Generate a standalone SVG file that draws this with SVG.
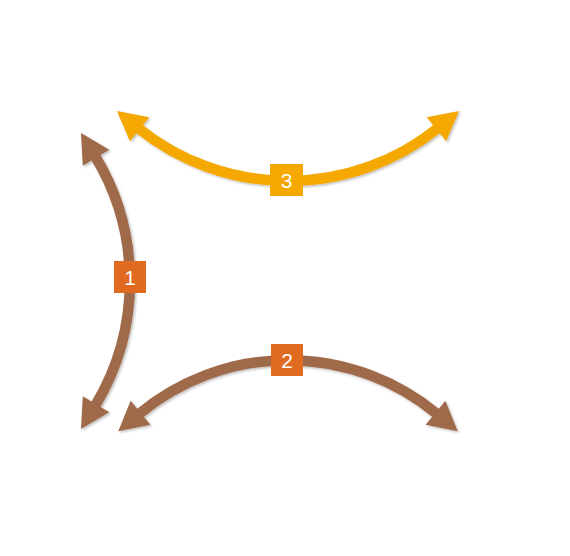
<svg xmlns="http://www.w3.org/2000/svg" width="570" height="556" viewBox="0 0 570 556">
<style>
.brown{fill:none;stroke:#9E6A4A;stroke-width:10.5}
.gold{fill:none;stroke:#F4A800;stroke-width:10.5}
.lbl{font-family:"Liberation Sans",Arial,sans-serif;font-size:21px;fill:#FFFFFF;text-anchor:middle;dominant-baseline:central}
</style>
<defs>
<filter id="sh" x="-20%" y="-20%" width="140%" height="140%">
<feDropShadow dx="1.5" dy="1.5" stdDeviation="1.2" flood-color="#000" flood-opacity="0.25"/>
</filter>
<marker id="hb" markerUnits="userSpaceOnUse" markerWidth="32" markerHeight="34" viewBox="0 -17 30 34" refX="2" refY="0" orient="auto-start-reverse">
<path d="M0,-15.5 L29,0 L0,15.5 Z" fill="#9E6A4A"/>
</marker>
<marker id="hg" markerUnits="userSpaceOnUse" markerWidth="32" markerHeight="34" viewBox="0 -17 30 34" refX="2" refY="0" orient="auto-start-reverse">
<path d="M0,-15.5 L29,0 L0,15.5 Z" fill="#F4A800"/>
</marker>
</defs>
<g id="connectors" filter="url(#sh)">
<path id="c1" class="brown" d="M95,156 A241,241 0 0 1 95,406" marker-start="url(#hb)" marker-end="url(#hb)"/>
<path id="c2" class="brown" d="M139,414 A233,233 0 0 1 437,414" marker-start="url(#hb)" marker-end="url(#hb)"/>
<path id="c3" class="gold" d="M138,128 A239,239 0 0 0 438,128" marker-start="url(#hg)" marker-end="url(#hg)"/>
</g>
<g id="n1">
<rect x="114" y="261" width="32" height="32" fill="#E06A1F"/>
<text class="lbl" x="130" y="277">1</text>
</g>
<g id="n2">
<rect x="271" y="344" width="32" height="32" fill="#E06A1F"/>
<text class="lbl" x="287" y="360">2</text>
</g>
<g id="n3">
<rect x="270" y="164" width="33" height="32" fill="#F4A800"/>
<text class="lbl" x="286.5" y="180">3</text>
</g>
</svg>
